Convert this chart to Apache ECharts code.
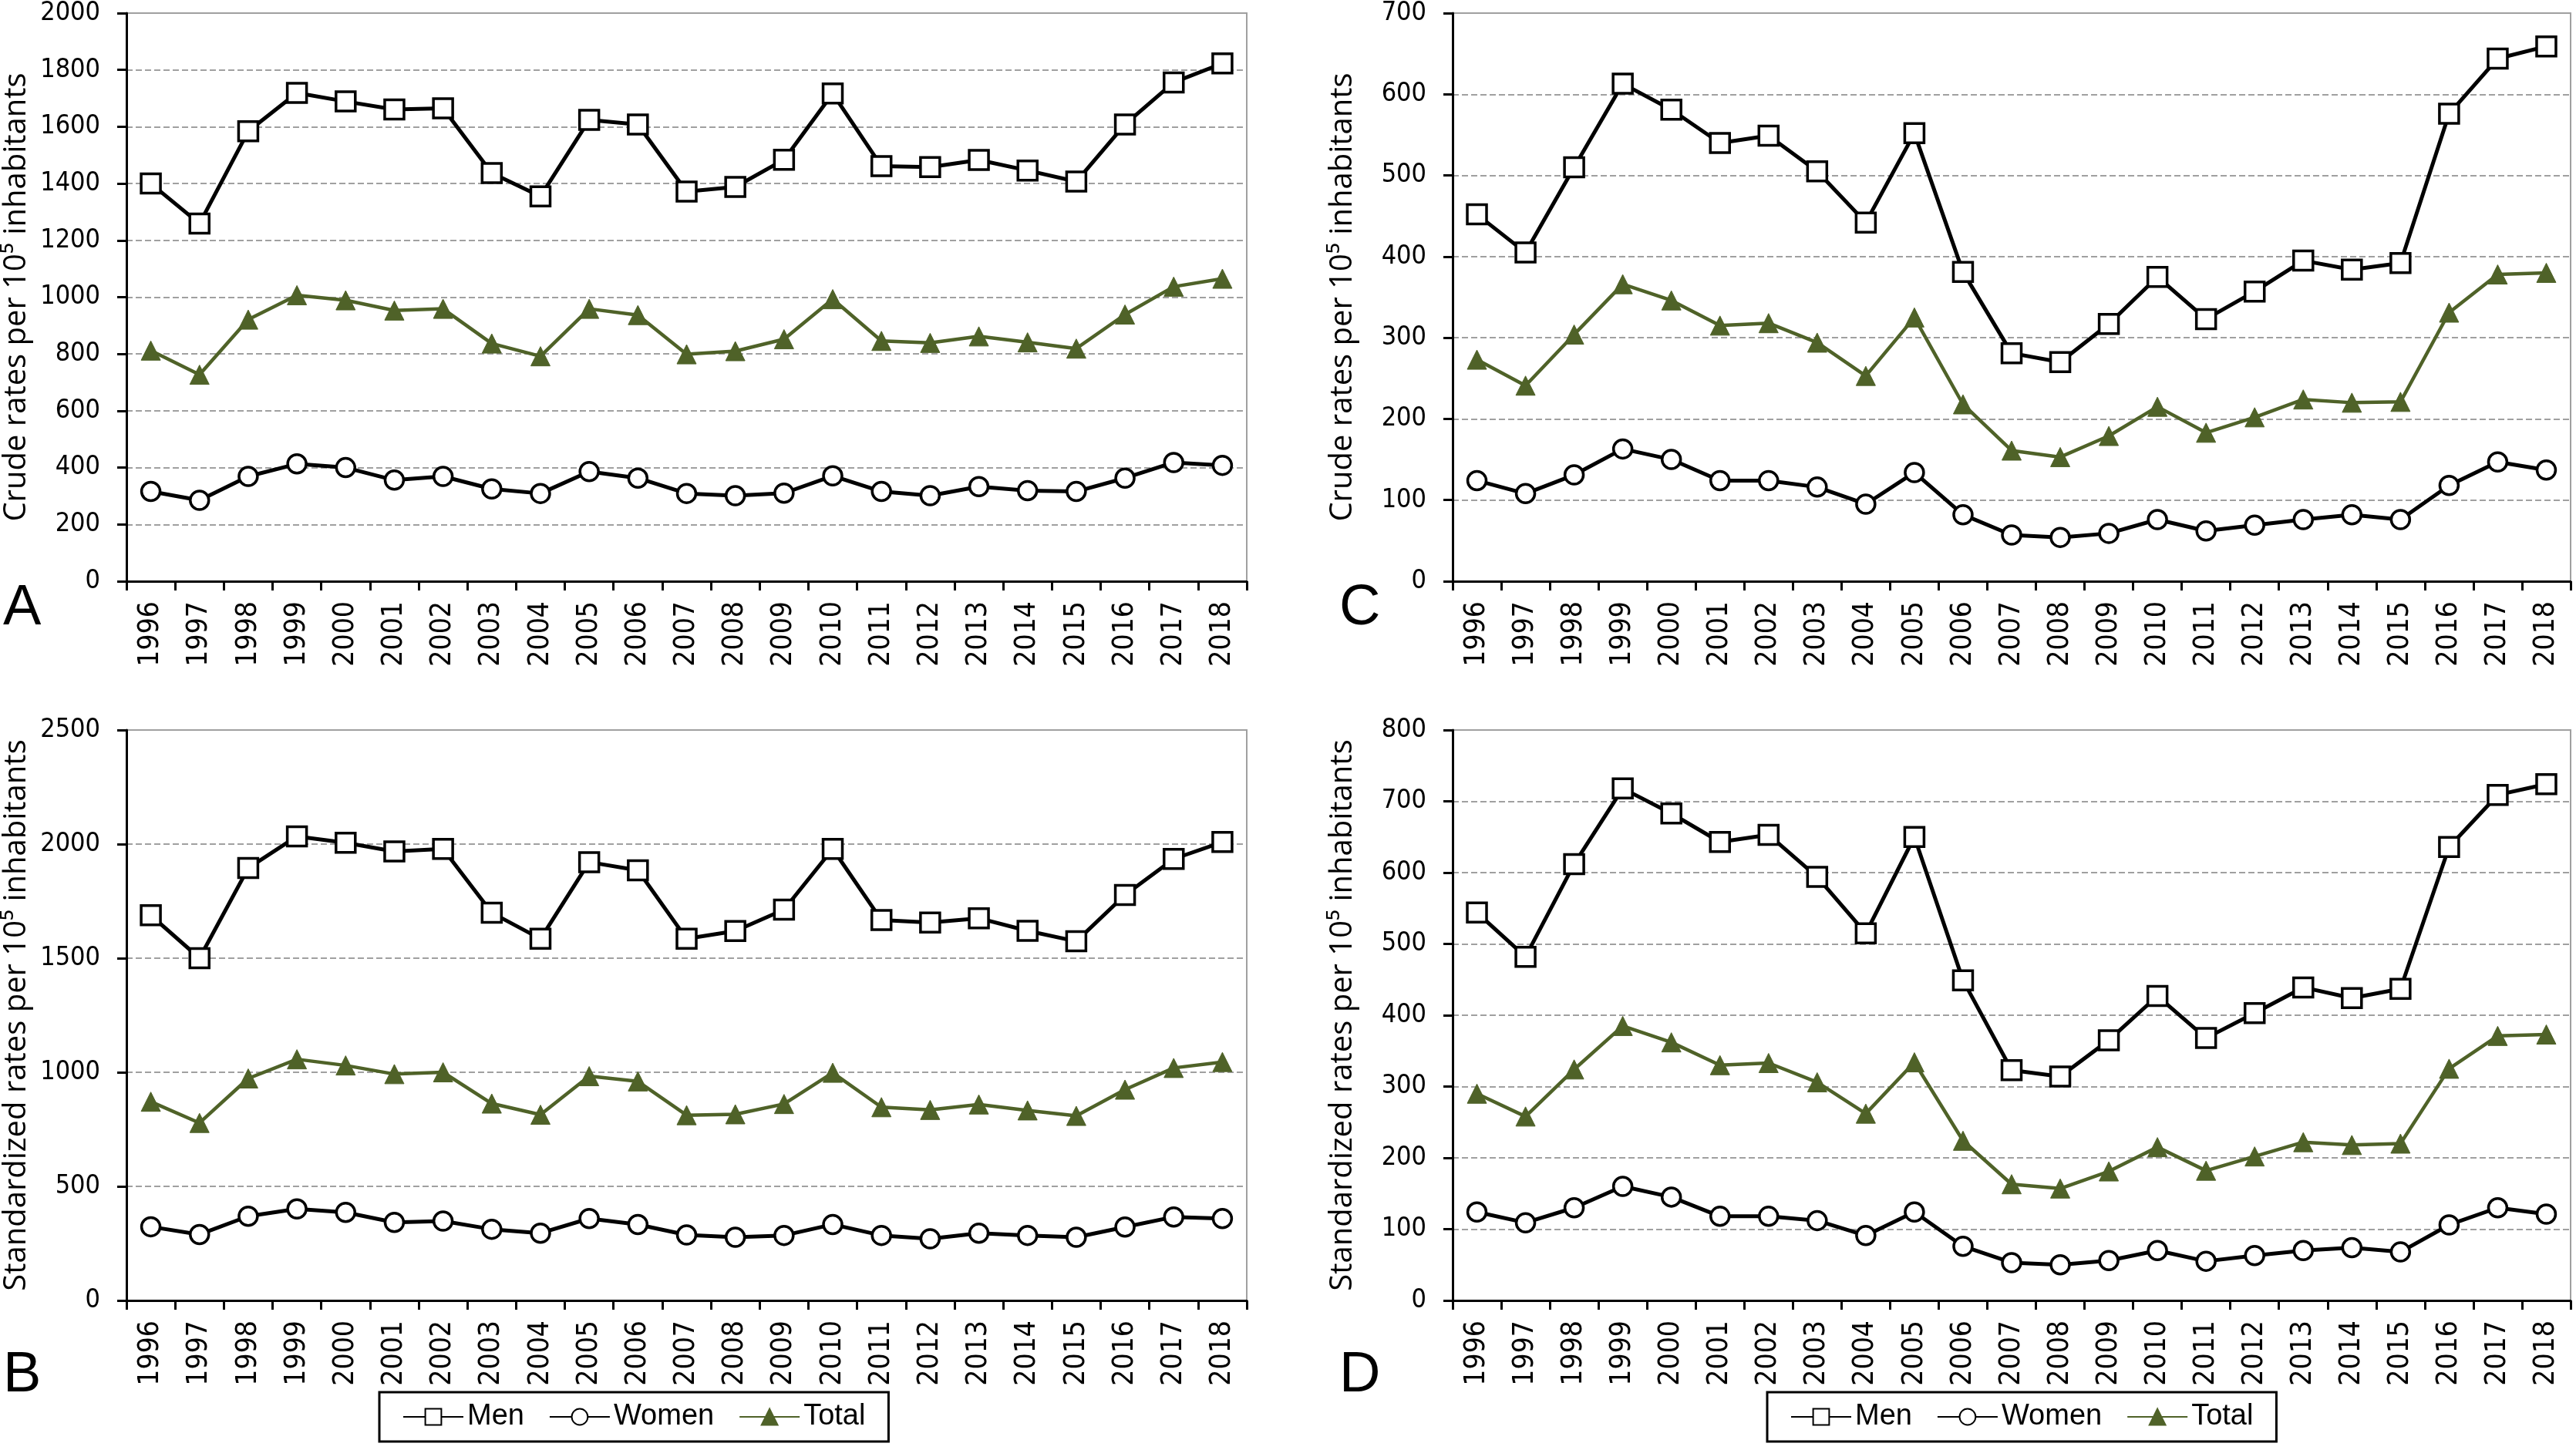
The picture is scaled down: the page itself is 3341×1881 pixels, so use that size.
<!DOCTYPE html>
<html><head><meta charset="utf-8">
<script src="https://cdn.jsdelivr.net/npm/echarts@6/dist/echarts.min.js"></script>
<style>html,body{margin:0;padding:0;background:#fff}#c{width:3341px;height:1881px}</style>
</head><body><div id="c"></div>
<script>
const years = ['1996','1997','1998','1999','2000','2001','2002','2003','2004','2005','2006','2007','2008','2009','2010','2011','2012','2013','2014','2015','2016','2017','2018'];
const seriesNames = ['Men','Women','Total'];
// Panel A: crude rates
const menA   = [1400,1259,1584,1719,1689,1661,1665,1437,1355,1624,1608,1372,1388,1484,1717,1461,1458,1483,1446,1407,1608,1756,1823];
const womenA = [316,285,369,413,400,356,369,325,309,386,363,309,301,310,371,316,301,333,319,316,363,418,408];
const totalA = [812,727,921,1007,989,953,959,837,792,959,937,799,810,852,993,846,839,862,841,819,939,1037,1065];
// Panel B: standardized rates
const menB   = [1688,1500,1895,2034,2006,1968,1979,1699,1585,1921,1885,1585,1619,1713,1979,1667,1656,1675,1620,1574,1777,1935,2009];
const womenB = [323,289,369,401,386,342,348,312,295,359,333,287,277,285,333,285,270,295,285,277,322,366,359];
const totalB = [871,778,973,1057,1030,992,1000,863,814,983,960,812,816,861,998,847,835,859,833,809,924,1019,1045];
// Panel C: crude rates
const menC   = [452,405,510,613,581,540,549,505,442,552,381,281,270,317,375,323,357,395,384,392,576,644,659];
const womenC = [124,108,131,163,150,124,124,116,95,134,82,57,54,59,76,62,69,76,82,76,118,147,137];
const totalC = [273,241,304,366,346,315,318,294,253,325,218,161,153,179,215,183,202,224,220,221,331,378,380];
// Panel D: standardized rates
const menD   = [544,482,612,718,683,643,653,594,515,650,449,323,314,365,427,368,403,439,424,437,636,709,724];
const womenD = [124,109,130,160,145,118,118,112,91,124,76,53,50,56,70,55,63,70,74,68,106,130,121];
const totalD = [290,258,324,385,362,330,333,306,262,334,224,163,157,181,215,182,202,222,218,220,325,371,373];
const panelLetters = ['A','B','C','D'];
const yNames = ['Crude rates per 10\u2075 inhabitants','Standardized rates per 10\u2075 inhabitants'];
const yMax = [2000,2500,700,800];
const yInterval = [200,500,100,100];

const OLIVE = '#4F6228';
const tickFont = '"DejaVu Sans Condensed","DejaVu Sans",sans-serif';
const panels = [
  {grid:{left:164,top:15,width:1453,height:739}, data:[menA,womenA,totalA], name:yNames[0]},
  {grid:{left:164,top:947,width:1453,height:740}, data:[menB,womenB,totalB], name:yNames[1]},
  {grid:{left:1884,top:15,width:1450,height:739}, data:[menC,womenC,totalC], name:yNames[0]},
  {grid:{left:1884,top:947,width:1450,height:740}, data:[menD,womenD,totalD], name:yNames[1]}
];

const grids=[], xAxes=[], yAxes=[], series=[];
panels.forEach((p,i)=>{
  grids.push(Object.assign({show:true,borderColor:'#a0a0a0',borderWidth:2,backgroundColor:'transparent',containLabel:false},p.grid));
  xAxes.push({type:'category',gridIndex:i,data:years,boundaryGap:true,
    axisLine:{lineStyle:{color:'#000',width:3}},
    axisTick:{show:true,length:12,lineStyle:{color:'#000',width:3}},
    axisLabel:{rotate:90,margin:26,fontSize:37,color:'#000',fontFamily:tickFont,interval:0},
    splitLine:{show:false}});
  yAxes.push({type:'value',gridIndex:i,min:0,max:yMax[i],interval:yInterval[i],
    name:p.name,nameLocation:'middle',nameGap:122,
    nameTextStyle:{fontSize:40,color:'#000',fontFamily:'"Open Sans",sans-serif'},
    axisLine:{show:true,lineStyle:{color:'#000',width:3}},
    axisTick:{show:true,length:12,lineStyle:{color:'#000',width:3}},
    axisLabel:{margin:34,fontSize:34,color:'#000',fontFamily:tickFont,formatter:v=>String(v)},
    splitLine:{show:true,lineStyle:{color:'#a0a0a0',width:2,type:[8,4]}}});
  const [men,women,total]=p.data;
  series.push({name:seriesNames[0],type:'line',xAxisIndex:i,yAxisIndex:i,data:men,
    symbol:'rect',symbolSize:25,lineStyle:{color:'#000',width:5},
    itemStyle:{color:'#fff',borderColor:'#000',borderWidth:3.5},z:3});
  series.push({name:seriesNames[1],type:'line',xAxisIndex:i,yAxisIndex:i,data:women,
    symbol:'circle',symbolSize:24,lineStyle:{color:'#000',width:5},
    itemStyle:{color:'#fff',borderColor:'#000',borderWidth:3.5},z:3});
  series.push({name:seriesNames[2],type:'line',xAxisIndex:i,yAxisIndex:i,data:total,
    symbol:'triangle',symbolSize:25,lineStyle:{color:OLIVE,width:4.5},
    itemStyle:{color:OLIVE,borderColor:OLIVE,borderWidth:1},z:3});
});

const legendCommon = {orient:'horizontal',top:1806,padding:[13,30],itemGap:32,itemWidth:78,itemHeight:26,
  borderColor:'#000',borderWidth:3,backgroundColor:'#fff',selectedMode:false,
  textStyle:{fontSize:38,color:'#000',fontFamily:'"Liberation Sans",Arial,sans-serif'},data:seriesNames};

const letterStyle = {fontSize:74,fill:'#000',fontFamily:'"Liberation Sans",Arial,sans-serif',textVerticalAlign:'top'};
const option = {
  animation:false,
  backgroundColor:'#fff',
  grid:grids, xAxis:xAxes, yAxis:yAxes, series:series,
  legend:[Object.assign({left:492},legendCommon),Object.assign({left:2292},legendCommon)],
  graphic:[
    {type:'text',left:4,top:753,style:Object.assign({text:panelLetters[0]},letterStyle)},
    {type:'text',left:4,top:1748,style:Object.assign({text:panelLetters[1]},letterStyle)},
    {type:'text',left:1737,top:753,style:Object.assign({text:panelLetters[2]},letterStyle)},
    {type:'text',left:1737,top:1748,style:Object.assign({text:panelLetters[3]},letterStyle)}
  ]
};
const chart = echarts.init(document.getElementById('c'),null,{renderer:'canvas'});
chart.setOption(option);
</script></body></html>
